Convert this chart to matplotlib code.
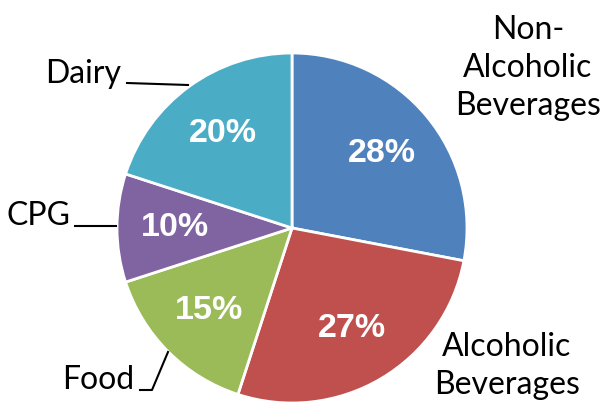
import matplotlib
matplotlib.use('Agg')
import matplotlib.pyplot as plt

# Datos del grafico
categorias = ['Non-\nAlcoholic\nBeverages', 'Alcoholic\nBeverages', 'Food', 'CPG', 'Dairy']
valores = [28, 27, 15, 10, 20]
colores = ['#4F81BD', '#C0504D', '#9BBB59', '#8064A2', '#4BACC6']

W, H = 607, 409

fig = plt.figure(figsize=(W / 100, H / 100), dpi=100)
ax = fig.add_axes([0, 0, 1, 1])
ax.set_xlim(0, W)
ax.set_ylim(0, H)
ax.set_aspect('equal')
ax.axis('off')

# Pastel en coordenadas de pixel (y invertida)
cx, cy, r = 292, H - 228, 175
cuñas, textos, pcts = ax.pie(valores, colors=colores, startangle=90, counterclock=False,
                             center=(cx, cy), radius=r, autopct='%d%%', pctdistance=0.67,
                             wedgeprops=dict(edgecolor='white', linewidth=2),
                             textprops=dict(color='white', fontsize=24.5, fontweight='bold',
                                            family='Liberation Sans'))
ax.set_xlim(0, W)
ax.set_ylim(0, H)

# Etiquetas de categorias
fuente = dict(fontsize=23, family='Lato', color='black', linespacing=1.34)
ax.text(528, H - 68, categorias[0], ha='center', va='center', **fuente)
ax.text(507, H - 366, categorias[1], ha='center', va='center', **fuente)
ax.text(134, H - 380, categorias[2], ha='right', va='center', **fuente)
ax.text(70, H - 216, categorias[3], ha='right', va='center', **fuente)
ax.text(121, H - 74, categorias[4], ha='right', va='center', **fuente)

# Lineas guia
ax.plot([127, 188], [H - 83, H - 85], color='black', lw=1.5)
ax.plot([75, 116], [H - 226, H - 226], color='black', lw=1.5)
ax.plot([140, 152, 168], [H - 390, H - 390, H - 352], color='black', lw=1.5)

fig.savefig('out.png', dpi=100)
